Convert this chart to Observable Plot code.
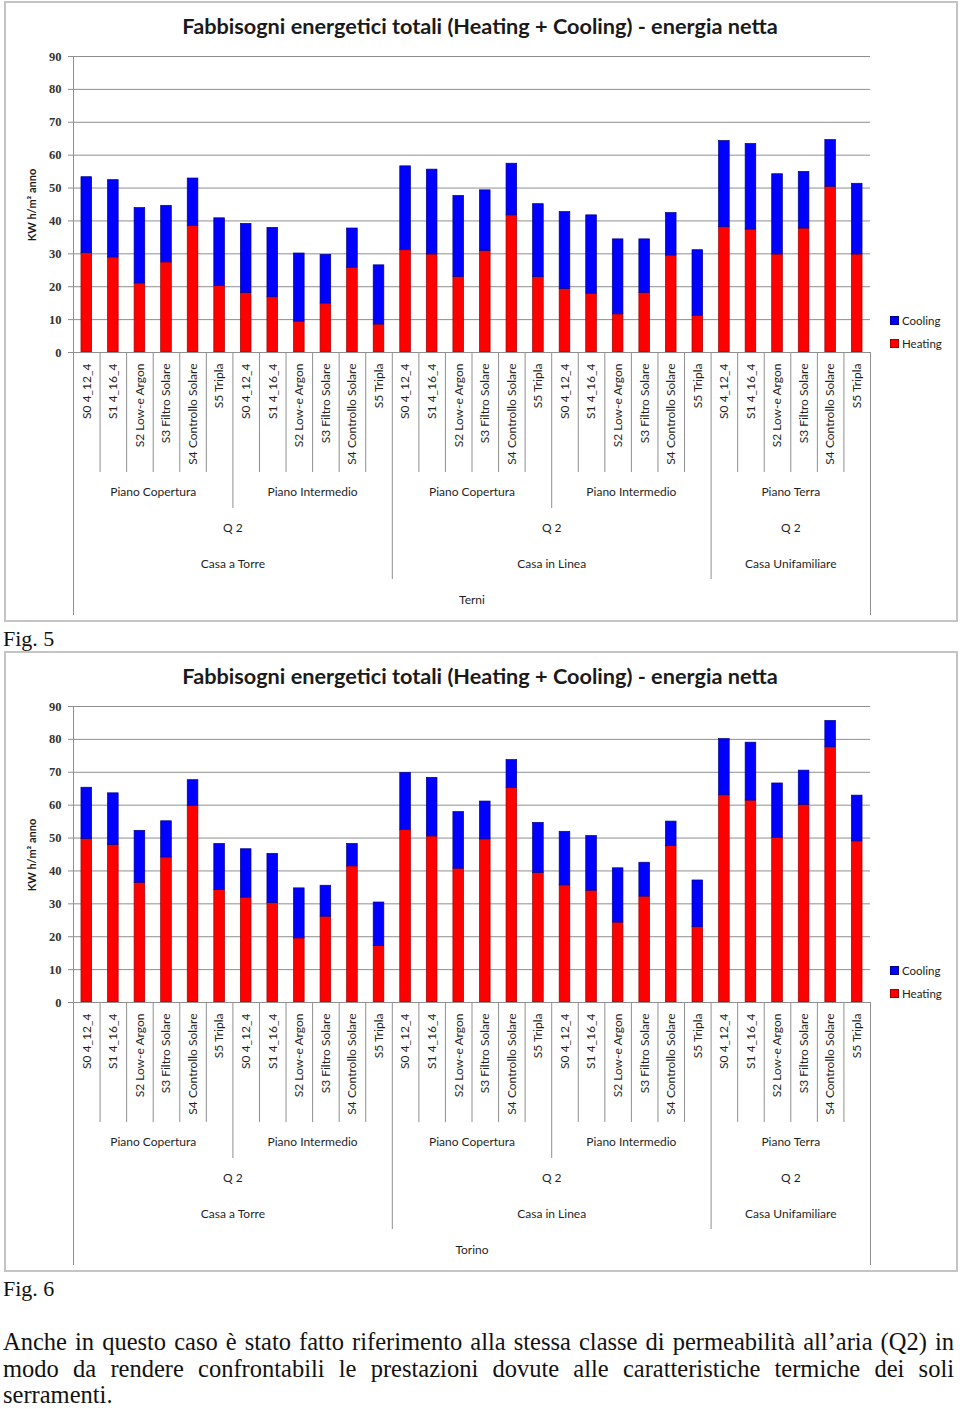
<!DOCTYPE html>
<html>
<head>
<meta charset="utf-8">
<script src="https://cdn.jsdelivr.net/npm/d3@7"></script>
<script src="https://cdn.jsdelivr.net/npm/@observablehq/plot@0.6"></script>
<style>
  html, body { margin: 0; padding: 0; background: #fff; }
  #page { position: relative; width: 960px; height: 1409px; overflow: hidden; }
  .frame { position: absolute; left: 4px; width: 950px; height: 617px; border: 2px solid #c4c4c4; box-sizing: content-box; }
  .title { position: absolute; left: 0; width: 960px; text-align: center; font-family: Lato, sans-serif; font-weight: bold; font-size: 21.7px; color: #1a1a1a; white-space: nowrap; }
  .ylab { position: absolute; font-family: Lato, sans-serif; font-weight: bold; font-size: 11px; color: #1a1a1a; transform: translate(-50%, -50%) rotate(-90deg); white-space: nowrap; }
  .legend { position: absolute; left: 891px; font-family: Lato, sans-serif; font-size: 11.5px; color: #222; }
  .legend div { height: 23px; line-height: 12px; display: flex; align-items: center; }
  .legend span.sw { display: inline-block; width: 7px; height: 7px; margin-right: 4px; }
  .fig { position: absolute; left: 3px; font-family: "Liberation Serif", serif; font-size: 22px; color: #111; }
  .para { position: absolute; left: 3px; width: 951px; font-family: "Liberation Serif", serif; font-size: 24.5px; color: #111; }
  .para div { height: 26.5px; line-height: 26.5px; white-space: nowrap; }
  .para div.j { text-align: justify; text-align-last: justify; white-space: normal; }
  svg { position: absolute; left: 0; }
</style>
</head>
<body>
<div id="page"></div>
<script>
// ---- data ----
const windows = ["S0 4_12_4", "S1 4_16_4", "S2 Low-e Argon", "S3 Filtro Solare", "S4 Controllo Solare", "S5 Tripla"];
const floors = ["Piano Copertura", "Piano Intermedio", "Piano Copertura", "Piano Intermedio", "Piano Terra"];
const permeability = ["Q 2", "Q 2", "Q 2"];
const buildings = ["Casa a Torre", "Casa in Linea", "Casa Unifamiliare"];
const floorsPerBuilding = [2, 2, 1];
const seriesNames = ["Heating", "Cooling"];
const seriesColors = ["#ff0000", "#0000ff"];
const yTicks = [0, 10, 20, 30, 40, 50, 60, 70, 80, 90];
const chartTitle = "Fabbisogni energetici totali (Heating + Cooling) - energia netta";
const yLabel = "KW h/m² anno";

const terniHeating = [30.2, 28.9, 21.0, 27.4, 38.5, 20.2, 18.1, 16.8, 9.4, 14.9, 25.8, 8.5,
  31.1, 29.8, 23.0, 30.9, 41.7, 22.9, 19.3, 17.9, 11.6, 18.1, 29.5, 11.2,
  38.1, 37.4, 29.8, 37.7, 50.4, 29.8];
const terniCooling = [23.1, 23.5, 22.9, 17.2, 14.4, 20.6, 21.0, 21.1, 20.7, 14.8, 11.9, 18.0,
  25.5, 25.8, 24.6, 18.4, 15.7, 22.2, 23.4, 23.8, 22.8, 16.3, 12.9, 19.9,
  26.2, 26.0, 24.4, 17.2, 14.2, 21.5];
const torinoHeating = [49.7, 47.9, 36.4, 44.1, 59.8, 34.2, 31.9, 30.2, 19.5, 26.1, 41.4, 17.2,
  52.4, 50.5, 40.7, 49.6, 65.2, 39.4, 35.6, 34.0, 24.3, 32.2, 47.6, 22.9,
  63.0, 61.4, 50.1, 60.1, 77.6, 49.0];
const torinoCooling = [15.6, 15.7, 15.8, 11.0, 7.8, 14.0, 14.7, 15.0, 15.2, 9.4, 6.8, 13.2,
  17.4, 17.8, 17.2, 11.5, 8.5, 15.2, 16.3, 16.6, 16.5, 10.3, 7.4, 14.2,
  17.1, 17.6, 16.5, 10.4, 8.0, 13.9];

const figCaptions = ["Fig. 5", "Fig. 6"];
const paragraph = [
  "Anche in questo caso è stato fatto riferimento alla stessa classe di permeabilità all’aria (Q2) in",
  "modo da rendere confrontabili le prestazioni dovute alle caratteristiche termiche dei soli",
  "serramenti."
];

const page = document.getElementById("page");
const GRAY = "#8f8f8f";
const TXT = "#1f1f1f";

function makeChart(heating, cooling, city, top) {
  const n = heating.length;
  const nw = windows.length;
  const rows = [];
  heating.forEach((v, i) => rows.push({i, series: "Heating", v}));
  cooling.forEach((v, i) => rows.push({i, series: "Cooling", v}));

  // group structure
  const floorStarts = floors.map((_, k) => k * nw);
  const floorCenters = floors.map((_, k) => k * nw + (nw - 1) / 2);
  const bStarts = []; let acc = 0;
  floorsPerBuilding.forEach(f => { bStarts.push(acc); acc += f * nw; });
  const bCenters = floorsPerBuilding.map((f, k) => bStarts[k] + (f * nw - 1) / 2);
  const outer = [-0.5, n - 0.5];
  const bBounds = bStarts.slice(1).map(s => s - 0.5);
  const fBounds = floorStarts.slice(1).map(s => s - 0.5).filter(b => !bBounds.includes(b));
  const cBounds = d3.range(1, n).map(i => i - 0.5).filter(b => !bBounds.includes(b) && !fBounds.includes(b));

  const fontSans = "Lato, sans-serif";
  const svg = Plot.plot({
    width: 960, height: 625,
    marginLeft: 73, marginRight: 90, marginTop: 56, marginBottom: 273,
    style: {fontFamily: fontSans, fontSize: "12px", color: TXT, background: "transparent"},
    x: {type: "linear", domain: [-0.5, n - 0.5], label: null},
    y: {domain: [0, 90], label: null},
    color: {domain: seriesNames, range: seriesColors},
    marks: [
      Plot.gridY({ticks: yTicks, stroke: GRAY, strokeOpacity: 1}),
      Plot.axisY({ticks: yTicks, tickSize: 5, tickPadding: 7, stroke: GRAY, label: null,
        fontFamily: "Liberation Serif, serif", fontWeight: "bold", fontSize: 12.5, fill: "#333"}),
      Plot.frame({anchor: "left", stroke: GRAY}),
      Plot.rectY(rows, {x1: d => d.i - 0.2, x2: d => d.i + 0.2, y: "v", fill: "series",
        stroke: d => d.series === "Heating" ? "#a00000" : "#00008a", strokeWidth: 0.7}),
      Plot.ruleY([0], {stroke: GRAY}),
      Plot.axisX({ticks: cBounds, tickSize: 120, tickFormat: () => "", stroke: GRAY, label: null}),
      Plot.axisX({ticks: fBounds, tickSize: 156, tickFormat: () => "", stroke: GRAY, label: null}),
      Plot.axisX({ticks: bBounds, tickSize: 227, tickFormat: () => "", stroke: GRAY, label: null}),
      Plot.axisX({ticks: outer, tickSize: 263, tickFormat: () => "", stroke: GRAY, label: null}),
      Plot.axisX({ticks: d3.range(n), tickSize: 0, tickPadding: 11, tickRotate: -90,
        tickFormat: i => windows[i % nw], fill: TXT, label: null, fontSize: 12}),
      Plot.axisX({ticks: floorCenters, tickSize: 0, tickPadding: 135,
        tickFormat: c => floors[floorCenters.indexOf(c)], fill: TXT, label: null, fontSize: 12}),
      Plot.axisX({ticks: bCenters, tickSize: 0, tickPadding: 171,
        tickFormat: c => permeability[bCenters.indexOf(c)], fill: TXT, label: null, fontSize: 12}),
      Plot.axisX({ticks: bCenters, tickSize: 0, tickPadding: 207,
        tickFormat: c => buildings[bCenters.indexOf(c)], fill: TXT, label: null, fontSize: 12}),
      Plot.axisX({ticks: [(n - 1) / 2], tickSize: 0, tickPadding: 243,
        tickFormat: () => city, fill: TXT, label: null, fontSize: 12})
    ]
  });
  svg.style.top = top + "px";

  const frame = document.createElement("div");
  frame.className = "frame";
  frame.style.top = (top + 1) + "px";
  page.appendChild(frame);
  page.appendChild(svg);

  const t = document.createElement("div");
  t.className = "title";
  t.style.top = (top + 13) + "px";
  t.textContent = chartTitle;
  page.appendChild(t);

  const yl = document.createElement("div");
  yl.className = "ylab";
  yl.style.left = "31px";
  yl.style.top = (top + 205) + "px";
  yl.textContent = yLabel;
  page.appendChild(yl);

  const lg = document.createElement("div");
  lg.className = "legend";
  lg.style.top = (top + 309) + "px";
  [1, 0].forEach(k => {
    const row = document.createElement("div");
    const sw = document.createElement("span");
    sw.className = "sw";
    sw.style.background = seriesColors[k];
    sw.style.outline = "1px solid " + (k ? "#00008a" : "#a00000");
    row.appendChild(sw);
    row.appendChild(document.createTextNode(seriesNames[k]));
    lg.appendChild(row);
  });
  page.appendChild(lg);
}

makeChart(terniHeating, terniCooling, "Terni", 0);
makeChart(torinoHeating, torinoCooling, "Torino", 650);

[626, 1276].forEach((y, k) => {
  const f = document.createElement("div");
  f.className = "fig";
  f.style.top = y + "px";
  f.textContent = figCaptions[k];
  page.appendChild(f);
});

const p = document.createElement("div");
p.className = "para";
p.style.top = "1329px";
paragraph.forEach((line, k) => {
  const d = document.createElement("div");
  if (k < paragraph.length - 1) d.className = "j";
  d.textContent = line;
  p.appendChild(d);
});
page.appendChild(p);
</script>
</body>
</html>
